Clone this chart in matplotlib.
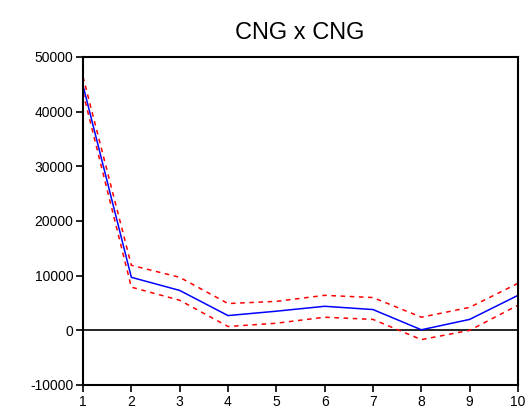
import matplotlib.pyplot as plt

# horizon and responses
periods = [1, 2, 3, 4, 5, 6, 7, 8, 9, 10]
response = [44800, 9700, 7300, 2700, 3500, 4400, 3800, 100, 2000, 6400]
upper = [46400, 11900, 9700, 4900, 5300, 6400, 6000, 2400, 4200, 8600]
lower = [43500, 7900, 5500, 700, 1300, 2400, 2000, -1700, 0, 4600]
yticks = [-10000, 0, 10000, 20000, 30000, 40000, 50000]

plt.rcParams['font.family'] = ['Liberation Sans', 'DejaVu Sans']
plt.rcParams['axes.unicode_minus'] = False

fig = plt.figure(figsize=(5.28, 4.12), dpi=100)
ax = fig.add_axes([83 / 528, 1 - 385 / 412, 435 / 528, 328 / 412])

ax.axhline(0, color='black', linewidth=1.2)
ax.plot(periods, response, color='blue', linewidth=1.1)
ax.plot(periods, upper, color='red', linewidth=1.1, linestyle=(0, (3, 3)))
ax.plot(periods, lower, color='red', linewidth=1.1, linestyle=(0, (3, 3)))

ax.set_xlim(1, 10)
ax.set_ylim(-10000, 50000)
ax.set_xticks(periods)
ax.set_yticks(yticks)
ax.tick_params(direction='out', length=5, width=1.2, labelsize=10, pad=2)
for s in ax.spines.values():
    s.set_linewidth(1.5)

fig.text(300 / 528, 1 - 33 / 412, "CNG x CNG", ha='center', va='center', fontsize=17)

fig.savefig("out.png", dpi=100)
